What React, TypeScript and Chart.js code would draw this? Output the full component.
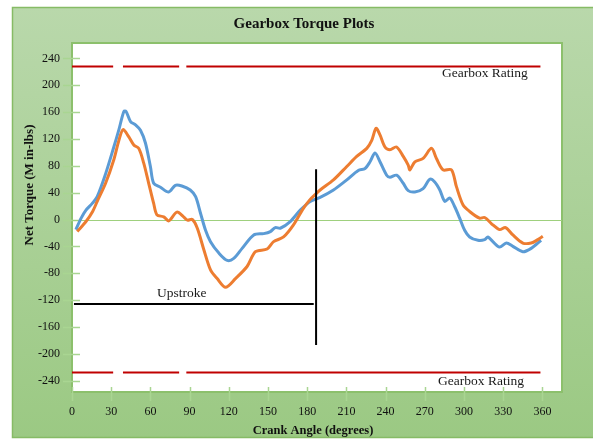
import React, { useEffect, useRef } from 'react';
import { Chart, registerables } from 'chart.js';

Chart.register(...registerables);

// Crank angle (degrees) and net torque (M in-lbs) for the two torque curves
const blueAngles = [3, 7, 10.7, 15.5, 19.3, 25.7, 32, 35.9, 39.7, 41.4, 44.8, 48.6, 52.4, 56.2, 60, 62.5, 67.7, 74, 79.1, 84.1, 90.5, 94.6, 98.4, 102.2, 106, 112.4, 118.8, 123.8, 130.2, 139.1, 146.7, 151.8, 155.6, 159.4, 167, 174.7, 182.3, 189.9, 200.1, 210.3, 219.1, 224.3, 228.1, 231.9, 235.7, 240.8, 243.3, 248.4, 253.5, 257.3, 262.4, 268.7, 273.8, 277.6, 281.5, 285.3, 289.1, 292.9, 296.7, 300.5, 304.3, 310.7, 315.8, 318.3, 322.1, 327.2, 332.4, 337.4, 345, 351.4, 359];
const blueTorque = [-15, 2, 14, 24, 34, 68, 108, 134, 161, 161, 146, 141, 133, 114, 79, 54, 48, 41, 51, 50, 44, 34, 9, -16, -33, -50, -61, -58, -43, -23, -21, -18, -12, -13, -3, 14, 27, 33, 44, 59, 73, 76, 86, 99, 86, 66, 63, 66, 54, 43, 41, 46, 60, 56, 44, 27, 32, 19, 2, -16, -26, -31, -30, -26, -33, -41, -35, -40, -48, -43, -31];

const orangeAngles = [4, 10.7, 15.8, 19.3, 25.7, 32, 35.9, 39.1, 43.5, 47.3, 51.1, 54.9, 58.7, 62.5, 65, 70.2, 74, 80.3, 85.4, 88.3, 92.1, 95.9, 100.9, 106, 111.1, 117.5, 125.1, 134, 140.4, 149.3, 154.3, 161.9, 169.5, 177.2, 182.3, 186, 189.9, 200.1, 210.3, 217.9, 225.6, 229.4, 232.7, 235.7, 239.5, 243.3, 248.4, 253.5, 257.3, 258.6, 262.4, 268.7, 275.1, 278.9, 284, 290.4, 294.2, 299.2, 304.3, 311.9, 315.8, 320.9, 327.2, 331.8, 337.4, 345, 351.4, 356.5, 360.3];
const orangeTorque = [-18, -3, 12, 27, 54, 89, 118, 134, 123, 111, 106, 84, 54, 24, 7, 4, -2, 11, 4, -1, 0, -13, -45, -75, -88, -101, -88, -70, -48, -44, -33, -26, -8, 17, 30, 37, 44, 59, 79, 94, 106, 118, 136, 126, 108, 104, 108, 94, 81, 74, 86, 91, 106, 91, 74, 74, 49, 22, 12, 2, 3, -6, -15, -12, -23, -35, -35, -30, -25];

// Gearbox rating lines (dashed with two gaps)
const ratingValue = 228;
const ratingSegments = [[0, 31.5], [39, 82], [87.5, 358.5]];

// Upstroke marker lines
const upstrokeLevel = -126;
const upstrokeFrom = 1.5;
const upstrokeTo = 185;
const dividerAngle = 186.8;
const dividerTop = 75;
const dividerBottom = -187;

const xTicks = [0, 30, 60, 90, 120, 150, 180, 210, 240, 270, 300, 330, 360];
const yTicks = [240, 200, 160, 120, 80, 40, 0, -40, -80, -120, -160, -200, -240];

const FONT = "'Liberation Serif', 'Times New Roman', serif";

function ratingLine(v: number) {
  const pts: { x: number; y: number | null }[] = [];
  ratingSegments.forEach((s, i) => {
    if (i > 0) pts.push({ x: (ratingSegments[i - 1][1] + s[0]) / 2, y: null });
    pts.push({ x: s[0], y: v }, { x: s[1], y: v });
  });
  return pts;
}

const decorPlugin = {
  id: 'decor',
  beforeDraw(chart: any) {
    const { ctx, chartArea: a } = chart;
    ctx.save();
    ctx.fillStyle = '#ffffff';
    ctx.fillRect(0, 0, chart.width, chart.height);
    const g = ctx.createLinearGradient(0, 7, 0, 438);
    g.addColorStop(0, '#b9d8ab');
    g.addColorStop(1, '#9bc983');
    ctx.fillStyle = g;
    ctx.fillRect(12, 7, 600, 431);
    ctx.strokeStyle = '#86bb65';
    ctx.lineWidth = 1.5;
    ctx.strokeRect(12.5, 7.5, 600, 430);
    ctx.fillStyle = '#ffffff';
    ctx.fillRect(a.left, a.top, a.right - a.left, a.bottom - a.top);
    ctx.strokeStyle = '#8cc06c';
    ctx.lineWidth = 2;
    ctx.strokeRect(a.left, a.top, a.right - a.left, a.bottom - a.top);

    ctx.fillStyle = '#111';
    ctx.textAlign = 'center';
    ctx.textBaseline = 'middle';
    ctx.font = `bold 15px ${FONT}`;
    ctx.fillText('Gearbox Torque Plots', 304, 24);
    ctx.font = `bold 12.5px ${FONT}`;
    ctx.fillText('Crank Angle (degrees)', 313, 431);
    ctx.save();
    ctx.translate(30, 185);
    ctx.rotate(-Math.PI / 2);
    ctx.font = `bold 13px ${FONT}`;
    ctx.fillText('Net Torque (M in-lbs)', 0, 0);
    ctx.restore();
    ctx.restore();
  },
  beforeDatasetsDraw(chart: any) {
    const { ctx, chartArea: a, scales } = chart;
    ctx.save();
    ctx.strokeStyle = '#a9d592';
    ctx.lineWidth = 1.5;
    yTicks.forEach((v) => {
      const y = Math.round(scales.y.getPixelForValue(v)) + 0.5;
      ctx.beginPath();
      ctx.moveTo(a.left - 9, y);
      ctx.lineTo(a.left + 8, y);
      ctx.stroke();
    });
    xTicks.forEach((v) => {
      const x = Math.round(scales.x.getPixelForValue(v)) + 0.5;
      ctx.beginPath();
      ctx.moveTo(x, a.bottom - 5);
      ctx.lineTo(x, a.bottom + 9);
      ctx.stroke();
    });
    ctx.strokeStyle = '#9fd07e';
    ctx.lineWidth = 1;
    const y0 = Math.round(scales.y.getPixelForValue(0)) + 0.5;
    ctx.beginPath();
    ctx.moveTo(a.left, y0);
    ctx.lineTo(a.right, y0);
    ctx.stroke();
    ctx.restore();
  },
  afterDatasetsDraw(chart: any) {
    const { ctx, scales } = chart;
    ctx.save();
    ctx.fillStyle = '#1a1a1a';
    ctx.textAlign = 'center';
    ctx.textBaseline = 'middle';
    ctx.font = `13.5px ${FONT}`;
    ctx.fillText('Gearbox Rating', scales.x.getPixelForValue(316), scales.y.getPixelForValue(217));
    ctx.fillText('Gearbox Rating', scales.x.getPixelForValue(313), scales.y.getPixelForValue(-241));
    ctx.fillText('Upstroke', scales.x.getPixelForValue(84), scales.y.getPixelForValue(-110));
    ctx.restore();
  },
};

export default function App() {
  const ref = useRef<HTMLCanvasElement>(null);
  useEffect(() => {
    if (!ref.current) return;
    const chart = new Chart(ref.current, {
      type: 'line',
      data: {
        datasets: [
          {
            label: 'Rating+',
            data: ratingLine(ratingValue),
            borderColor: '#c00000',
            borderWidth: 2,
            pointRadius: 0,
            spanGaps: false,
          },
          {
            label: 'Rating-',
            data: ratingLine(-ratingValue),
            borderColor: '#c00000',
            borderWidth: 2,
            pointRadius: 0,
            spanGaps: false,
          },
          {
            label: 'Upstroke',
            data: [
              { x: upstrokeFrom, y: upstrokeLevel },
              { x: upstrokeTo, y: upstrokeLevel },
            ],
            borderColor: '#000',
            borderWidth: 2,
            pointRadius: 0,
          },
          {
            label: 'Divider',
            data: [
              { x: dividerAngle, y: dividerTop },
              { x: dividerAngle, y: dividerBottom },
            ],
            borderColor: '#000',
            borderWidth: 2,
            pointRadius: 0,
          },
          {
            label: 'Orange',
            data: orangeAngles.map((x, i) => ({ x, y: orangeTorque[i] })),
            borderColor: '#ed7d31',
            borderWidth: 3,
            pointRadius: 0,
            tension: 0.3,
          },
          {
            label: 'Blue',
            data: blueAngles.map((x, i) => ({ x, y: blueTorque[i] })),
            borderColor: '#5b9bd5',
            borderWidth: 3,
            pointRadius: 0,
            tension: 0.3,
          },
        ],
      },
      options: {
        responsive: false,
        animation: false,
        layout: { padding: { left: 0, right: 31, top: 43, bottom: 0 } },
        plugins: { legend: { display: false }, tooltip: { enabled: false }, title: { display: false } },
        scales: {
          x: {
            type: 'linear',
            min: 0,
            max: 375,
            border: { display: false },
            grid: { display: false, drawTicks: false },
            afterFit: (s: any) => { s.height = 47; },
            afterBuildTicks: (s: any) => { s.ticks = xTicks.map((v) => ({ value: v })); },
            ticks: {
              padding: 13,
              color: '#111',
              font: { family: FONT, size: 12 },
              maxRotation: 0,
              autoSkip: false,
              callback: (v: any) => String(v),
            },
          },
          y: {
            type: 'linear',
            min: -257,
            max: 263,
            border: { display: false },
            grid: { display: false, drawTicks: false },
            afterFit: (s: any) => { s.width = 72; },
            afterBuildTicks: (s: any) => { s.ticks = yTicks.map((v) => ({ value: v })); },
            ticks: {
              padding: 12,
              color: '#111',
              font: { family: FONT, size: 12 },
              autoSkip: false,
              callback: (v: any) => String(v),
            },
          },
        },
      },
      plugins: [decorPlugin],
    } as any);
    return () => chart.destroy();
  }, []);
  return (
    <div style={{ position: 'absolute', left: 0, top: 0, width: 593, height: 439 }}>
      <canvas ref={ref} width={593} height={439} style={{ display: 'block' }} />
    </div>
  );
}
